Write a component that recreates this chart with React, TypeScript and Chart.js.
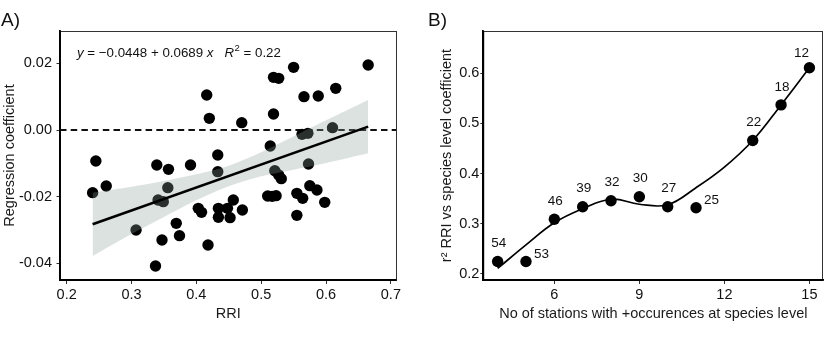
import React, { useEffect, useRef } from "react";
import { Chart, registerables } from "chart.js";

Chart.register(...registerables);

const FONT = "'Liberation Sans', Arial, Helvetica, sans-serif";

// ---------- Panel A data ----------
const rriValues = [
  0.665, 0.55, 0.519, 0.527, 0.416, 0.566, 0.588, 0.615, 0.42, 0.47,
  0.519, 0.563, 0.572, 0.61, 0.514, 0.573, 0.245, 0.339, 0.357, 0.391,
  0.433, 0.433, 0.521, 0.527, 0.531, 0.24, 0.261, 0.356, 0.341, 0.349,
  0.307, 0.369, 0.347, 0.374, 0.337, 0.418, 0.403, 0.408, 0.434, 0.434,
  0.452, 0.457, 0.448, 0.471, 0.51, 0.517, 0.523, 0.555, 0.564, 0.575,
  0.586, 0.598, 0.555,
];
const coefValues = [
  0.0195, 0.0188, 0.0158, 0.0155, 0.0105, 0.01, 0.0102, 0.0125, 0.0035, 0.0022,
  0.0048, -0.0013, -0.001, 0.0007, -0.0048, -0.0102, -0.0093, -0.0105, -0.0118, -0.0105,
  -0.0075, -0.0125, -0.0122, -0.0135, -0.0146, -0.0188, -0.0168, -0.0173, -0.021, -0.0215,
  -0.03, -0.028, -0.033, -0.0317, -0.0408, -0.0345, -0.0235, -0.0247, -0.0235, -0.0262,
  -0.0263, -0.021, -0.0235, -0.024, -0.0198, -0.0199, -0.0197, -0.019, -0.0205, -0.0167,
  -0.018, -0.0217, -0.0256,
];
const fitIntercept = -0.0448;
const fitSlope = 0.0689;
const fitX = [0.24, 0.665];
const bandX = [0.24, 0.3, 0.35, 0.4, 0.45, 0.5, 0.55, 0.6, 0.665];
const bandUpper = [-0.0188, -0.017, -0.0153, -0.0133, -0.0107, -0.0067, -0.0019, 0.0029, 0.009];
const bandLower = [-0.0378, -0.0312, -0.0261, -0.0211, -0.0169, -0.0139, -0.0119, -0.0099, -0.007];
const aXTicks = [0.2, 0.3, 0.4, 0.5, 0.6, 0.7];
const aXTickLabels = ["0.2", "0.3", "0.4", "0.5", "0.6", "0.7"];
const aYTicks = [0.02, 0, -0.02, -0.04];
const aYTickLabels = ["0.02", "0.00", "-0.02", "-0.04"];

// ---------- Panel B data ----------
const stations = [4, 5, 6, 7, 8, 9, 10, 11, 13, 14, 15];
const r2Values = [0.225, 0.225, 0.309, 0.334, 0.346, 0.354, 0.334, 0.332, 0.466, 0.537, 0.611];
const sampleSizes = ["54", "53", "46", "39", "32", "30", "27", "25", "22", "18", "12"];
const curveX = [4, 5, 6, 7, 8, 9, 10, 11, 12, 13, 14, 15];
const curveY = [0.211, 0.258, 0.302, 0.33, 0.349, 0.339, 0.338, 0.372, 0.413, 0.466, 0.537, 0.611];
const bXTicks = [6, 9, 12, 15];
const bXTickLabels = ["6", "9", "12", "15"];
const bYTicks = [0.2, 0.3, 0.4, 0.5, 0.6];
const bYTickLabels = ["0.2", "0.3", "0.4", "0.5", "0.6"];
const labelPlacement = ["above", "right", "above", "above", "above", "above", "above", "right", "above", "above", "aboveLeft"];

const frameAndTitle = (label: string, lx: number) => ({
  id: "frame" + label,
  afterDraw(chart: any) {
    const { ctx, chartArea: a } = chart;
    ctx.save();
    ctx.strokeStyle = "#333";
    ctx.lineWidth = 1;
    ctx.strokeRect(Math.round(a.left) + 0.5, Math.round(a.top) + 0.5, Math.round(a.right - a.left) - 1, Math.round(a.bottom - a.top) - 1);
    ctx.strokeStyle = "#000";
    ctx.lineWidth = 1.8;
    ctx.beginPath();
    ctx.moveTo(a.left, a.top);
    ctx.lineTo(a.left, a.bottom);
    ctx.lineTo(a.right, a.bottom);
    ctx.stroke();
    ctx.fillStyle = "#111";
    ctx.font = `19px ${FONT}`;
    ctx.textBaseline = "alphabetic";
    ctx.textAlign = "left";
    ctx.fillText(label, lx, 26);
    ctx.restore();
  },
});

const zeroLine = {
  id: "zeroLine",
  beforeDatasetsDraw(chart: any) {
    const { ctx, chartArea: a, scales } = chart;
    const y = scales.y.getPixelForValue(0);
    ctx.save();
    ctx.strokeStyle = "#111";
    ctx.lineWidth = 1.8;
    ctx.setLineDash([6.5, 4.2]);
    ctx.beginPath();
    ctx.moveTo(a.left, y);
    ctx.lineTo(a.right, y);
    ctx.stroke();
    ctx.restore();
  },
};

const equation = {
  id: "equation",
  afterDatasetsDraw(chart: any) {
    const { ctx } = chart;
    ctx.save();
    ctx.fillStyle = "#111";
    ctx.textBaseline = "alphabetic";
    ctx.textAlign = "left";
    let x = 77;
    const y = 57;
    const parts: [string, string][] = [
      ["i", "y"],
      ["n", " = \u22120.0448 + 0.0689 "],
      ["i", "x"],
      ["n", "   "],
      ["i", "R"],
      ["s", "2"],
      ["n", " = 0.22"],
    ];
    for (const [kind, txt] of parts) {
      if (kind === "s") {
        ctx.font = `9.5px ${FONT}`;
        ctx.fillText(txt, x + 0.5, y - 6);
        x += ctx.measureText(txt).width + 0.5;
      } else {
        ctx.font = `${kind === "i" ? "italic " : ""}13.3px ${FONT}`;
        ctx.fillText(txt, x, y);
        x += ctx.measureText(txt).width;
      }
    }
    ctx.restore();
  },
};

const pointLabels = {
  id: "pointLabels",
  afterDatasetsDraw(chart: any) {
    const { ctx } = chart;
    const meta = chart.getDatasetMeta(0);
    ctx.save();
    ctx.fillStyle = "#111";
    ctx.font = `13.5px ${FONT}`;
    ctx.textBaseline = "middle";
    meta.data.forEach((pt: any, i: number) => {
      const p = labelPlacement[i];
      if (p === "right") {
        ctx.textAlign = "left";
        ctx.fillText(sampleSizes[i], pt.x + 8, pt.y - 7);
      } else if (p === "aboveLeft") {
        ctx.textAlign = "center";
        ctx.fillText(sampleSizes[i], pt.x - 8, pt.y - 14);
      } else {
        ctx.textAlign = "center";
        ctx.fillText(sampleSizes[i], pt.x + 1, pt.y - 18);
      }
    });
    ctx.restore();
  },
};

function axis(opts: any) {
  const { min, max, ticks, labels, fit, horizontal, title, titlePad, tickPad, tickLen } = opts;
  return {
    type: "linear",
    min,
    max,
    afterFit: (s: any) => {
      if (horizontal) s.height = fit;
      else s.width = fit;
    },
    afterBuildTicks: (s: any) => {
      s.ticks = ticks.map((v: number) => ({ value: v }));
    },
    ticks: {
      autoSkip: false,
      maxRotation: 0,
      padding: tickPad,
      color: "#111",
      font: { size: 14.5, family: FONT },
      callback: (v: number) => {
        const idx = ticks.findIndex((t: number) => Math.abs(t - v) < 1e-9);
        return idx >= 0 ? labels[idx] : "";
      },
    },
    grid: { drawOnChartArea: false, drawTicks: true, tickLength: tickLen, color: "#333", tickWidth: 1 },
    border: { display: true, color: "#000", width: 1.8 },
    title: {
      display: true,
      text: title,
      color: "#1a1a1a",
      font: { size: 14.5, family: FONT },
      padding: titlePad,
    },
  };
}

function PanelA() {
  const ref = useRef<HTMLCanvasElement>(null);
  useEffect(() => {
    const chart = new Chart(ref.current!, {
      type: "scatter",
      data: {
        datasets: [
          {
            data: rriValues.map((x, i) => ({ x, y: coefValues[i] })),
            backgroundColor: "#000",
            borderWidth: 0,
            pointRadius: 5.7,
            order: 3,
          } as any,
          {
            data: bandX.map((x, i) => ({ x, y: bandUpper[i] })),
            showLine: true,
            fill: "+1",
            backgroundColor: "rgba(138,158,152,0.3)",
            borderWidth: 0,
            borderColor: "rgba(0,0,0,0)",
            pointRadius: 0,
            tension: 0.3,
            order: 2,
          },
          {
            data: bandX.map((x, i) => ({ x, y: bandLower[i] })),
            showLine: true,
            fill: false,
            borderWidth: 0,
            borderColor: "rgba(0,0,0,0)",
            pointRadius: 0,
            tension: 0.3,
            order: 2,
          },
          {
            data: fitX.map((x) => ({ x, y: fitIntercept + fitSlope * x })),
            showLine: true,
            borderColor: "#000",
            borderWidth: 2.6,
            pointRadius: 0,
            order: 1,
          },
        ],
      },
      options: {
        responsive: false,
        animation: false,
        devicePixelRatio: 1,
        layout: { padding: { left: 0, right: 18.3, top: 31, bottom: 0 } },
        plugins: { legend: { display: false }, tooltip: { enabled: false } },
        scales: {
          x: axis({ min: 0.1897, max: 0.709, ticks: aXTicks, labels: aXTickLabels, fit: 78, horizontal: true, title: "RRI", titlePad: { top: 0, bottom: 35.3 }, tickPad: 2, tickLen: 4 }),
          y: axis({ min: -0.045, max: 0.0297, ticks: aYTicks, labels: aYTickLabels, fit: 60, horizontal: false, title: "Regression coefficient", titlePad: { top: 1.5, bottom: 0 }, tickPad: 4.5, tickLen: 3.5 }),
        },
      } as any,
      plugins: [zeroLine, equation, frameAndTitle("A)", 1)],
    });
    return () => chart.destroy();
  }, []);
  return <canvas ref={ref} width={415} height={358} style={{ position: "absolute", left: 0, top: 0 }} />;
}

function PanelB() {
  const ref = useRef<HTMLCanvasElement>(null);
  useEffect(() => {
    const chart = new Chart(ref.current!, {
      type: "scatter",
      data: {
        datasets: [
          {
            data: stations.map((x, i) => ({ x, y: r2Values[i] })),
            backgroundColor: "#000",
            borderWidth: 0,
            pointRadius: 5.7,
            order: 2,
          } as any,
          {
            data: curveX.map((x, i) => ({ x, y: curveY[i] })),
            showLine: true,
            borderColor: "#000",
            borderWidth: 1.7,
            pointRadius: 0,
            tension: 0.4,
            order: 1,
          },
        ],
      },
      options: {
        responsive: false,
        animation: false,
        devicePixelRatio: 1,
        layout: { padding: { left: 0, right: 6.7, top: 31, bottom: 0 } },
        plugins: { legend: { display: false }, tooltip: { enabled: false } },
        scales: {
          x: axis({ min: 3.494, max: 15.49, ticks: bXTicks, labels: bXTickLabels, fit: 78, horizontal: true, title: "No of stations with +occurences at species level", titlePad: { top: 0, bottom: 35.3 }, tickPad: 2, tickLen: 4 }),
          y: axis({ min: 0.188, max: 0.6843, ticks: bYTicks, labels: bYTickLabels, fit: 68.3, horizontal: false, title: "r\u00b2 RRI vs species level coefficient", titlePad: { top: 23, bottom: 0 }, tickPad: 1, tickLen: 3 }),
        },
      } as any,
      plugins: [pointLabels, frameAndTitle("B)", 13)],
    });
    return () => chart.destroy();
  }, []);
  return <canvas ref={ref} width={415} height={358} style={{ position: "absolute", left: 415, top: 0 }} />;
}

export default function App() {
  return (
    <div style={{ position: "absolute", left: 0, top: 0, width: 830, height: 358, background: "#fff", overflow: "hidden" }}>
      <PanelA />
      <PanelB />
    </div>
  );
}
